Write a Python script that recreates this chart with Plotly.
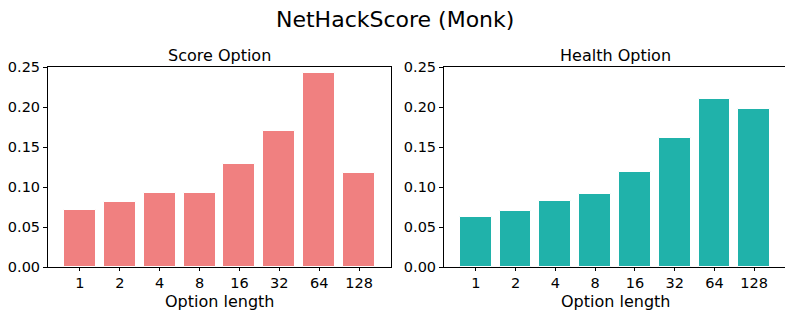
import plotly.graph_objects as go

categories = ["1", "2", "4", "8", "16", "32", "64", "128"]
score_option = [0.071, 0.081, 0.092, 0.092, 0.129, 0.170, 0.242, 0.118]
health_option = [0.063, 0.070, 0.083, 0.091, 0.119, 0.161, 0.210, 0.198]
y_ticks = [0.0, 0.05, 0.10, 0.15, 0.20, 0.25]
y_tick_labels = ["0.00", "0.05", "0.10", "0.15", "0.20", "0.25"]

OFF = 8  # body margin of the page
W, H = 793 - OFF, 318 - OFF
FONT = "DejaVu Sans"

fig = go.Figure()
idx = list(range(len(categories)))
fig.add_trace(go.Bar(x=idx, y=score_option, width=0.8, marker=dict(color="#F08080", line=dict(color="white", width=1)),
                     xaxis="x", yaxis="y", showlegend=False))
fig.add_trace(go.Bar(x=idx, y=health_option, width=0.8, marker=dict(color="#20B2AA", line=dict(color="white", width=1)),
                     xaxis="x2", yaxis="y2", showlegend=False))

def px_x(p):
    return (p - OFF) / W

def px_y(p):
    return 1 - (p - OFF) / H

axcommon = dict(showline=True, linecolor="black", linewidth=1, mirror=True, ticks="outside",
                ticklen=4, tickcolor="black", showgrid=False, zeroline=False, automargin=False,
                tickfont=dict(family=FONT, size=14.5, color="black"))

xcommon = dict(axcommon, tickmode="array", tickvals=idx, ticktext=categories, range=[-0.8, 7.8], ticklen=3)
ycommon = dict(axcommon, tickmode="array", tickvals=y_ticks, ticktext=y_tick_labels, range=[0, 0.25])

L1, R1, L2, R2, TOP, BOT = 48, 391, 444, 786, 67, 267

def ann(text, xp, yp, size):
    return dict(text=text, x=px_x(xp), y=px_y(yp), xref="paper", yref="paper", showarrow=False,
                xanchor="center", yanchor="middle", font=dict(family=FONT, size=size, color="black"))

fig.update_layout(
    width=W, height=H,
    margin=dict(l=0, r=0, t=0, b=0),
    plot_bgcolor="white", paper_bgcolor="white",
    bargap=0,
    xaxis=dict(xcommon, domain=[px_x(L1), px_x(R1)], anchor="y"),
    yaxis=dict(ycommon, domain=[px_y(BOT), px_y(TOP)], anchor="x"),
    xaxis2=dict(xcommon, domain=[px_x(L2), px_x(R2)], anchor="y2"),
    yaxis2=dict(ycommon, domain=[px_y(BOT), px_y(TOP)], anchor="x2"),
    annotations=[
        ann("NetHackScore (Monk)", 395, 19, 22),
        ann("Score Option", (L1 + R1) / 2, 56, 16),
        ann("Health Option", (L2 + R2) / 2, 56, 16),
        ann("Option length", (L1 + R1) / 2, 301, 16),
        ann("Option length", (L2 + R2) / 2, 301, 16),
    ],
)

fig.write_html("out.html")
